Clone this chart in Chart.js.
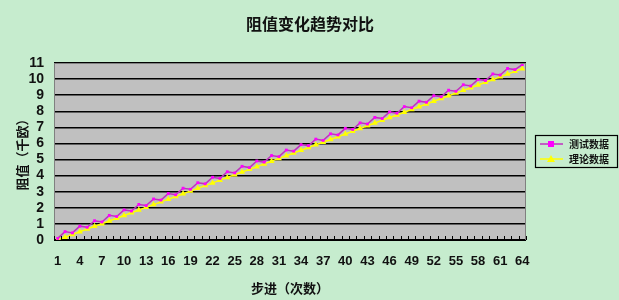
<!DOCTYPE html>
<html>
<head>
<meta charset="utf-8">
<script src="https://cdn.jsdelivr.net/npm/chart.js@4.4.1/dist/chart.umd.min.js"></script>
<style>
  html, body { margin: 0; padding: 0; background: #c6ecce; }
  #wrap { position: relative; width: 619px; height: 300px; }
</style>
</head>
<body>
<div id="wrap"><canvas id="chart" width="619" height="300"></canvas></div>
<script>
const steps = [];
for (let i = 1; i <= 64; i++) steps.push(String(i));

const testData = [
  0.10, 0.52, 0.44, 0.86, 0.79, 1.20, 1.12, 1.53, 1.46, 1.87, 1.80, 2.21, 2.14, 2.55, 2.48, 2.89,
  2.81, 3.22, 3.15, 3.56, 3.49, 3.90, 3.83, 4.24, 4.17, 4.58, 4.50, 4.91, 4.84, 5.25, 5.18, 5.59,
  5.52, 5.93, 5.86, 6.27, 6.19, 6.60, 6.53, 6.94, 6.87, 7.28, 7.21, 7.62, 7.55, 7.96, 7.88, 8.29,
  8.22, 8.63, 8.56, 8.97, 8.90, 9.31, 9.24, 9.65, 9.57, 9.98, 9.91, 10.32, 10.25, 10.66, 10.59, 10.90
];
const theoryData = [
  0.00, 0.17, 0.34, 0.51, 0.68, 0.85, 1.01, 1.18, 1.35, 1.52, 1.69, 1.86, 2.03, 2.20, 2.37, 2.54,
  2.70, 2.87, 3.04, 3.21, 3.38, 3.55, 3.72, 3.89, 4.06, 4.23, 4.39, 4.56, 4.73, 4.90, 5.07, 5.24,
  5.41, 5.58, 5.75, 5.92, 6.08, 6.25, 6.42, 6.59, 6.76, 6.93, 7.10, 7.27, 7.44, 7.61, 7.77, 7.94,
  8.11, 8.28, 8.45, 8.62, 8.79, 8.96, 9.13, 9.30, 9.46, 9.63, 9.80, 9.97, 10.14, 10.31, 10.48, 10.65
];
const seriesNames = ["测试数据", "理论数据"];
const yMax = 11;

const cjk = '"Noto Sans CJK SC", sans-serif';
const num = '"Liberation Sans", Arial, sans-serif';

// gray plot area, inner ticks, title and boxed legend
const decor = {
  id: "decor",
  beforeDraw(chart) {
    const { ctx, chartArea: a } = chart;
    ctx.save();
    ctx.fillStyle = "#c6ecce";
    ctx.fillRect(0, 0, chart.width, chart.height);
    ctx.fillStyle = "#c0c0c0";
    ctx.fillRect(a.left, a.top, a.right - a.left, a.bottom - a.top);
    ctx.restore();
  },
  afterDraw(chart) {
    const { ctx, chartArea: a } = chart;
    ctx.save();
    // border
    ctx.strokeStyle = "#808080";
    ctx.lineWidth = 1;
    ctx.strokeRect(a.left + 0.5, a.top + 0.5, a.right - a.left - 1, a.bottom - a.top);
    // bottom axis and inner tick marks
    ctx.strokeStyle = "#000";
    ctx.beginPath();
    ctx.moveTo(a.left, a.bottom + 0.5);
    ctx.lineTo(a.right, a.bottom + 0.5);
    const n = steps.length;
    const w = (a.right - a.left) / n;
    for (let i = 0; i <= n; i++) {
      const x = Math.round(a.left + i * w) + 0.5;
      ctx.moveTo(x, a.bottom);
      ctx.lineTo(x, a.bottom - 4);
    }
    ctx.stroke();

    // title
    ctx.fillStyle = "#111";
    ctx.font = "bold 16px " + cjk;
    ctx.textAlign = "center";
    ctx.textBaseline = "middle";
    ctx.fillText("阻值变化趋势对比", 310, 24);

    // legend
    const lx = 535, ly = 135, lw = 82, lh = 32;
    ctx.lineWidth = 1.2;
    ctx.strokeStyle = "#000";
    ctx.strokeRect(lx + 0.5, ly + 0.5, lw, lh);
    const rows = [
      { y: ly + 9, color: "#c030c0", mark: "#ff00ff", shape: "square" },
      { y: ly + 24, color: "#ffff00", mark: "#ffff00", shape: "tri" }
    ];
    rows.forEach((r, i) => {
      ctx.strokeStyle = r.color;
      ctx.lineWidth = 1.5;
      ctx.beginPath();
      ctx.moveTo(lx + 5, r.y);
      ctx.lineTo(lx + 28, r.y);
      ctx.stroke();
      ctx.fillStyle = r.mark;
      if (r.shape === "square") {
        ctx.fillRect(lx + 13, r.y - 3, 6, 6);
      } else {
        ctx.beginPath();
        ctx.moveTo(lx + 16, r.y - 4);
        ctx.lineTo(lx + 20, r.y + 3);
        ctx.lineTo(lx + 12, r.y + 3);
        ctx.closePath();
        ctx.fill();
      }
      ctx.fillStyle = "#111";
      ctx.font = "bold 10px " + cjk;
      ctx.textAlign = "left";
      ctx.fillText(seriesNames[i], lx + 34, r.y);
    });
    ctx.restore();
  }
};

new Chart(document.getElementById("chart"), {
  type: "line",
  data: {
    labels: steps,
    datasets: [
      {
        label: seriesNames[0],
        data: testData,
        borderColor: "#c030c0",
        backgroundColor: "#ff00ff",
        borderWidth: 1.5,
        pointStyle: "rect",
        pointRadius: 2,
        pointBorderWidth: 0,
        tension: 0
      },
      {
        label: seriesNames[1],
        data: theoryData,
        borderColor: "#ffff00",
        backgroundColor: "#ffff00",
        borderWidth: 1.5,
        pointStyle: "triangle",
        pointRadius: 3.5,
        pointBorderWidth: 0,
        tension: 0
      }
    ]
  },
  options: {
    responsive: false,
    animation: false,
    layout: { padding: { top: 63, right: 93, left: 0, bottom: 0 } },
    plugins: {
      legend: { display: false },
      title: { display: false },
      tooltip: { enabled: false }
    },
    scales: {
      x: {
        offset: true,
        grid: { display: false, drawTicks: false },
        border: { display: false },
        ticks: {
          autoSkip: false,
          maxRotation: 0,
          padding: 14,
          color: "#111",
          font: { family: num, size: 13, weight: "bold" },
          callback: (v, i) => (i % 3 === 0 ? steps[i] : "")
        },
        title: {
          display: true,
          text: "步进（次数）",
          color: "#111",
          font: { family: cjk, size: 13, weight: "bold" },
          padding: { top: 0, bottom: 4 }
        },
        afterFit(scale) { scale.height = 60; }
      },
      y: {
        min: 0,
        max: yMax,
        grid: { color: "#000", lineWidth: 1.5, drawTicks: false },
        border: { display: false },
        ticks: {
          stepSize: 1,
          autoSkip: false,
          padding: 10,
          color: "#111",
          font: { family: num, size: 14, weight: "bold" }
        },
        title: {
          display: true,
          text: "阻值（千欧）",
          color: "#111",
          font: { family: cjk, size: 13, weight: "bold" },
          padding: { top: 14, bottom: 0 }
        },
        afterFit(scale) { scale.width = 54; }
      }
    }
  },
  plugins: [decor]
});
</script>
</body>
</html>
